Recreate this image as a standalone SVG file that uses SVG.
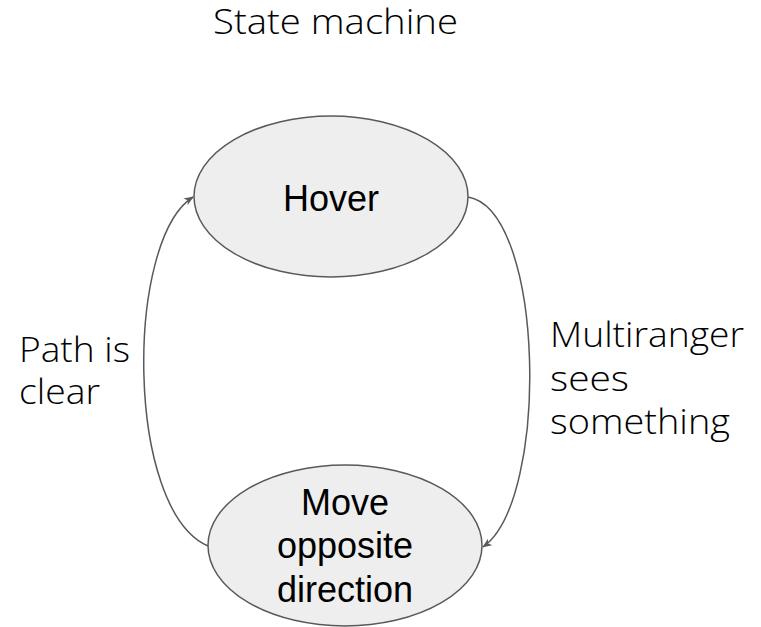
<svg xmlns="http://www.w3.org/2000/svg" width="761" height="627" viewBox="0 0 761 627">
  <style>
    .state { fill: #eeeeee; stroke: #595959; stroke-width: 1.5; }
    .state-text { font-family: "Liberation Sans", Arial, sans-serif; font-size: 36px; fill: #000000; text-anchor: middle; }
    .label { font-family: "Open Sans", "Lato", sans-serif; font-weight: 300; font-size: 34px; fill: #000000; }
    .edge { fill: none; stroke: #595959; stroke-width: 1.5; marker-end: url(#arrow); }
  </style>
  <defs>
    <marker id="arrow" viewBox="0 0 10 8" refX="9" refY="4" markerWidth="10" markerHeight="8" markerUnits="userSpaceOnUse" orient="auto">
      <path d="M0,0 L10,4 L0,8 L3,4 z" fill="#595959"/>
    </marker>
  </defs>

  <rect width="761" height="627" fill="#ffffff"/>

  <g id="title">
    <text class="label" x="213" y="34" textLength="245" lengthAdjust="spacingAndGlyphs">State machine</text>
  </g>

  <g id="connectors">
    <!-- Move opposite direction -> Hover -->
    <path id="edge-clear" class="edge" d="M208,546 C125,510 125,240 193,197"/>
    <!-- Hover -> Move opposite direction -->
    <path id="edge-sees" class="edge" d="M468,197 C545,210 550,500 483,547"/>
  </g>

  <g id="edge-labels">
    <text class="label" x="19" y="362" textLength="111" lengthAdjust="spacingAndGlyphs">Path is</text>
    <text class="label" x="19" y="404" textLength="81" lengthAdjust="spacingAndGlyphs">clear</text>
    <text class="label" x="550" y="347" textLength="194" lengthAdjust="spacingAndGlyphs">Multiranger</text>
    <text class="label" x="550" y="391" textLength="79" lengthAdjust="spacingAndGlyphs">sees</text>
    <text class="label" x="550" y="434" textLength="180" lengthAdjust="spacingAndGlyphs">something</text>
  </g>

  <g id="node-hover">
    <ellipse class="state" cx="331" cy="196.5" rx="137" ry="80.5"/>
    <text class="state-text" x="331" y="211">Hover</text>
  </g>

  <g id="node-move">
    <ellipse class="state" cx="345" cy="545.5" rx="137" ry="80.5"/>
    <text class="state-text" x="345" y="515">Move</text>
    <text class="state-text" x="345" y="558">opposite</text>
    <text class="state-text" x="345" y="602">direction</text>
  </g>
</svg>
